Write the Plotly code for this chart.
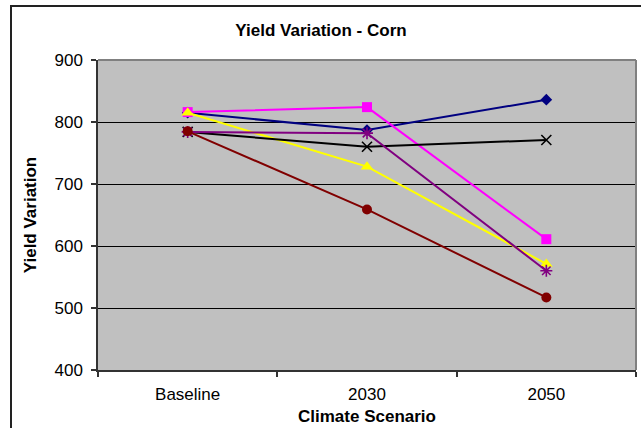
import plotly.graph_objects as go

categories = ["Baseline", "2030", "2050"]
series_diamond = [815, 787, 836]
series_square = [816, 824, 611]
series_triangle = [815, 728, 571]
series_x = [784, 760, 771]
series_asterisk = [784, 782, 560]
series_circle = [785, 659, 517]
y_ticks = [400, 500, 600, 700, 800, 900]

W, H = 641, 428
L, R, T, B = 98, 5, 60, 58
pw, ph = W - L - R, H - T - B

FONT = "Liberation Sans, Arial, sans-serif"

specs = [
    (series_diamond, "#000080", "diamond", 9, 0),
    (series_square, "#FF00FF", "square", 10, 0),
    (series_triangle, "#FFFF00", "triangle-up", 11, 0),
    (series_x, "#000000", "x-thin-open", 10, 1.6),
    (series_asterisk, "#800080", "asterisk-open", 10, 1.6),
    (series_circle, "#800000", "circle", 10, 0),
]

fig = go.Figure()
for vals, col, sym, sz, lw in specs:
    fig.add_trace(go.Scatter(
        x=categories, y=vals, mode="lines+markers",
        line=dict(color=col, width=2),
        marker=dict(symbol=sym, size=sz, color=col,
                    line=dict(color=col, width=lw)),
        showlegend=False, cliponaxis=False,
    ))

def px_x(p):
    return (p - L) / pw

def px_y(p):
    return (H - B - p) / ph

shapes = [
    dict(type="line", xref="paper", yref="paper", x0=0, x1=1, y0=1, y1=1,
         line=dict(color="#808080", width=2), layer="above"),
    dict(type="line", xref="paper", yref="paper", x0=1, x1=1, y0=0, y1=1,
         line=dict(color="#808080", width=2), layer="above"),
    dict(type="rect", xref="paper", yref="paper",
         x0=px_x(11), x1=px_x(660), y0=px_y(6), y1=px_y(440),
         line=dict(color="#222222", width=2), layer="above"),
]

annotations = [
    dict(text="<b>Climate Scenario</b>", xref="paper", yref="paper",
         x=0.5, y=px_y(416), xanchor="center", yanchor="middle",
         showarrow=False, font=dict(family=FONT, size=17, color="black")),
]

fig.update_layout(
    width=W, height=H,
    margin=dict(l=L, r=R, t=T, b=B, pad=0),
    paper_bgcolor="white", plot_bgcolor="#C0C0C0",
    font=dict(family=FONT, size=17, color="black"),
    title=dict(text="<b>Yield Variation - Corn</b>", x=321 / W, xref="container",
               xanchor="center", y=1 - 30 / H, yanchor="middle",
               font=dict(family=FONT, size=17, color="black")),
    xaxis=dict(
        type="category", range=[-0.5, 2.5], tickson="boundaries",
        ticks="outside", ticklen=5, tickcolor="#333333", tickwidth=1.5,
        showline=True, linecolor="#333333", linewidth=1.5,
        showgrid=False, zeroline=False,
        tickfont=dict(family=FONT, size=17),
        ticklabelstandoff=8,
    ),
    yaxis=dict(
        range=[400, 900], tickvals=y_ticks,
        ticks="outside", ticklen=5, tickcolor="#333333", tickwidth=1.5,
        showline=True, linecolor="#333333", linewidth=1.5,
        showgrid=True, gridcolor="black", gridwidth=1, zeroline=False,
        tickfont=dict(family=FONT, size=17),
        ticklabelstandoff=5,
        title=dict(text="<b>Yield Variation</b>", standoff=14,
                   font=dict(family=FONT, size=17)),
    ),
    shapes=shapes,
    annotations=annotations,
)

fig.write_html("out.html")
